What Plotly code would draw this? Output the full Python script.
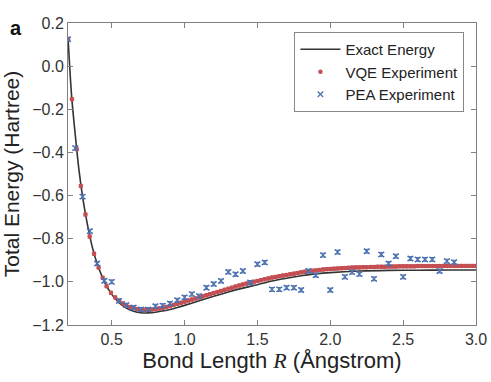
import plotly.graph_objects as go

# Exact energy curve
exact_r = [0.2, 0.225, 0.25, 0.275, 0.3, 0.325, 0.35, 0.375, 0.4, 0.45, 0.5, 0.55,
           0.6, 0.65, 0.7, 0.75, 0.8, 0.85, 0.9, 0.95, 1.0, 1.1, 1.2, 1.3, 1.4,
           1.5, 1.6, 1.7, 1.8, 1.9, 2.0, 2.2, 2.4, 2.6, 2.8, 3.0]
exact_e = [0.134, -0.14, -0.32, -0.48, -0.605, -0.705, -0.79, -0.86, -0.915, -1.0,
           -1.058, -1.097, -1.122, -1.136, -1.143, -1.144, -1.141, -1.135, -1.128,
           -1.119, -1.109, -1.088, -1.067, -1.047, -1.029, -1.013, -0.996, -0.983,
           -0.972, -0.963, -0.957, -0.950, -0.947, -0.946, -0.945, -0.945]

# VQE experiment
vqe_r = [0.2, 0.227, 0.26, 0.288, 0.32, 0.349, 0.379, 0.41, 0.438, 0.465, 0.495,
         0.524, 0.551, 0.578,
         0.6, 0.625, 0.65, 0.675, 0.7, 0.725, 0.75, 0.775, 0.8, 0.825, 0.85, 0.875,
         0.9, 0.925, 0.95, 0.975, 1.0, 1.025, 1.05, 1.075, 1.1, 1.125, 1.15, 1.175,
         1.2, 1.225, 1.25, 1.275, 1.3, 1.325, 1.35, 1.375, 1.4, 1.425, 1.45, 1.475,
         1.5, 1.525, 1.55, 1.575, 1.6, 1.625, 1.65, 1.675, 1.7, 1.725, 1.75, 1.775,
         1.8, 1.825, 1.85, 1.875, 1.9, 1.925, 1.95, 1.975, 2.0, 2.025, 2.05, 2.075,
         2.1, 2.125, 2.15, 2.175, 2.2, 2.225, 2.25, 2.275, 2.3, 2.325, 2.35, 2.375,
         2.4, 2.425, 2.45, 2.475, 2.5, 2.525, 2.55, 2.575, 2.6, 2.625, 2.65, 2.675,
         2.7, 2.725, 2.75, 2.775, 2.8, 2.825, 2.85, 2.875, 2.9, 2.925, 2.95, 2.975,
         3.0]
vqe_e = [0.125, -0.153, -0.385, -0.556, -0.688, -0.79, -0.87, -0.933, -0.981, -1.02,
         -1.051, -1.072, -1.088, -1.100,
         -1.110, -1.117, -1.122, -1.126, -1.128, -1.129, -1.129, -1.128, -1.126,
         -1.123, -1.120, -1.116, -1.112, -1.107, -1.102, -1.097, -1.092, -1.087,
         -1.082, -1.077, -1.072, -1.067, -1.062, -1.057, -1.052, -1.047, -1.042,
         -1.037, -1.032, -1.027, -1.022, -1.017, -1.012, -1.008, -1.004, -1.000,
         -0.996, -0.992, -0.988, -0.984, -0.980, -0.977, -0.974, -0.971, -0.968,
         -0.965, -0.962, -0.959, -0.956, -0.953, -0.951, -0.949, -0.947, -0.945,
         -0.943, -0.941, -0.940, -0.939, -0.938, -0.937, -0.936, -0.935, -0.934,
         -0.933, -0.933, -0.932, -0.932, -0.931, -0.931, -0.930, -0.930, -0.930,
         -0.929, -0.929, -0.929, -0.928, -0.928, -0.928, -0.928, -0.928, -0.927,
         -0.927, -0.927, -0.927, -0.927, -0.927, -0.927, -0.926, -0.926, -0.926,
         -0.926, -0.926, -0.926, -0.926, -0.926, -0.926, -0.926]

# PEA experiment
pea_r = [0.2, 0.25, 0.3, 0.35, 0.4, 0.45, 0.5, 0.55, 0.6, 0.65, 0.7, 0.75, 0.8,
         0.85, 0.9, 0.95, 1.0, 1.05, 1.1, 1.15, 1.2, 1.25, 1.3, 1.35, 1.4, 1.45,
         1.5, 1.55, 1.6, 1.65, 1.7, 1.75, 1.8, 1.85, 1.9, 1.95, 2.0, 2.05, 2.1,
         2.15, 2.2, 2.25, 2.3, 2.35, 2.4, 2.45, 2.5, 2.55, 2.6, 2.65, 2.7, 2.75,
         2.8, 2.85]
pea_e = [0.125, -0.38, -0.605, -0.765, -0.915, -0.995, -1.0, -1.088, -1.108,
         -1.119, -1.128, -1.128, -1.113, -1.110, -1.100, -1.085, -1.072, -1.057,
         -1.066, -1.027, -1.010, -0.996, -0.954, -0.965, -0.950, -1.003, -0.918,
         -0.910, -1.035, -1.035, -1.027, -1.027, -1.038, -0.950, -0.969, -0.876,
         -1.038, -0.862, -0.977, -0.955, -0.964, -0.858, -0.986, -0.873, -0.915,
         -0.881, -0.977, -0.892, -0.896, -0.896, -0.896, -0.950, -0.904, -0.909]

RED = "#C44E52"
BLUE = "#4C72B0"
FONT = "Arial, Liberation Sans, sans-serif"

fig = go.Figure()
fig.add_trace(go.Scatter(
    x=exact_r, y=exact_e, mode="lines", name="Exact Energy",
    line=dict(color="#333333", width=1.6, shape="spline", smoothing=0.8),
))
fig.add_trace(go.Scatter(
    x=vqe_r, y=vqe_e, mode="markers", name="VQE Experiment",
    marker=dict(color=RED, size=4.5, symbol="circle"),
    error_y=dict(type="constant", value=0.007, color=RED, thickness=1, width=2),
))
fig.add_trace(go.Scatter(
    x=pea_r, y=pea_e, mode="markers", name="PEA Experiment",
    marker=dict(color=BLUE, size=5.5, symbol="x-thin", line=dict(color=BLUE, width=1.3)),
    error_y=dict(type="constant", value=0.009, color=BLUE, thickness=1, width=3),
))

fig.add_annotation(
    text="<b>a</b>", xref="paper", yref="paper", x=-0.147, y=0.983,
    xanchor="left", yanchor="middle", showarrow=False,
    font=dict(family=FONT, size=20, color="#111111"),
)

axis_common = dict(
    showline=True, linecolor="#808080", linewidth=1, mirror="ticks",
    ticks="inside", ticklen=5, tickcolor="#808080", showgrid=False, zeroline=False,
    tickfont=dict(family=FONT, size=16, color="#333333"), automargin=False,
)
fig.update_xaxes(
    range=[0.2, 3.0], tickvals=[0.5, 1.0, 1.5, 2.0, 2.5, 3.0], tickformat=".1f",
    title=dict(text="Bond Length <i><span style=\"font-family:'Liberation Serif', serif\">R</span></i> (Ångstrom)",
               font=dict(family=FONT, size=22, color="#222222"), standoff=4),
    **axis_common,
)
fig.update_yaxes(
    range=[-1.2, 0.2], tickvals=[0.2, 0.0, -0.2, -0.4, -0.6, -0.8, -1.0, -1.2],
    tickformat=".1f",
    title=dict(text="Total Energy (Hartree)",
               font=dict(family=FONT, size=21, color="#222222"), standoff=6),
    **axis_common,
)
fig.update_layout(
    width=491, height=382,
    margin=dict(l=68, r=15, t=23, b=57),
    plot_bgcolor="white", paper_bgcolor="white",
    showlegend=True,
    legend=dict(
        x=0.555, y=0.97, xanchor="left", yanchor="top",
        bgcolor="white", bordercolor="#888888", borderwidth=1,
        font=dict(family=FONT, size=15, color="#222222"),
        itemwidth=40,
    ),
)

# drop the default body margin so the figure sits at the page's top-left corner
fig.write_html("out.html", config={"displayModeBar": False},
               post_script="document.body.style.margin='0';")
